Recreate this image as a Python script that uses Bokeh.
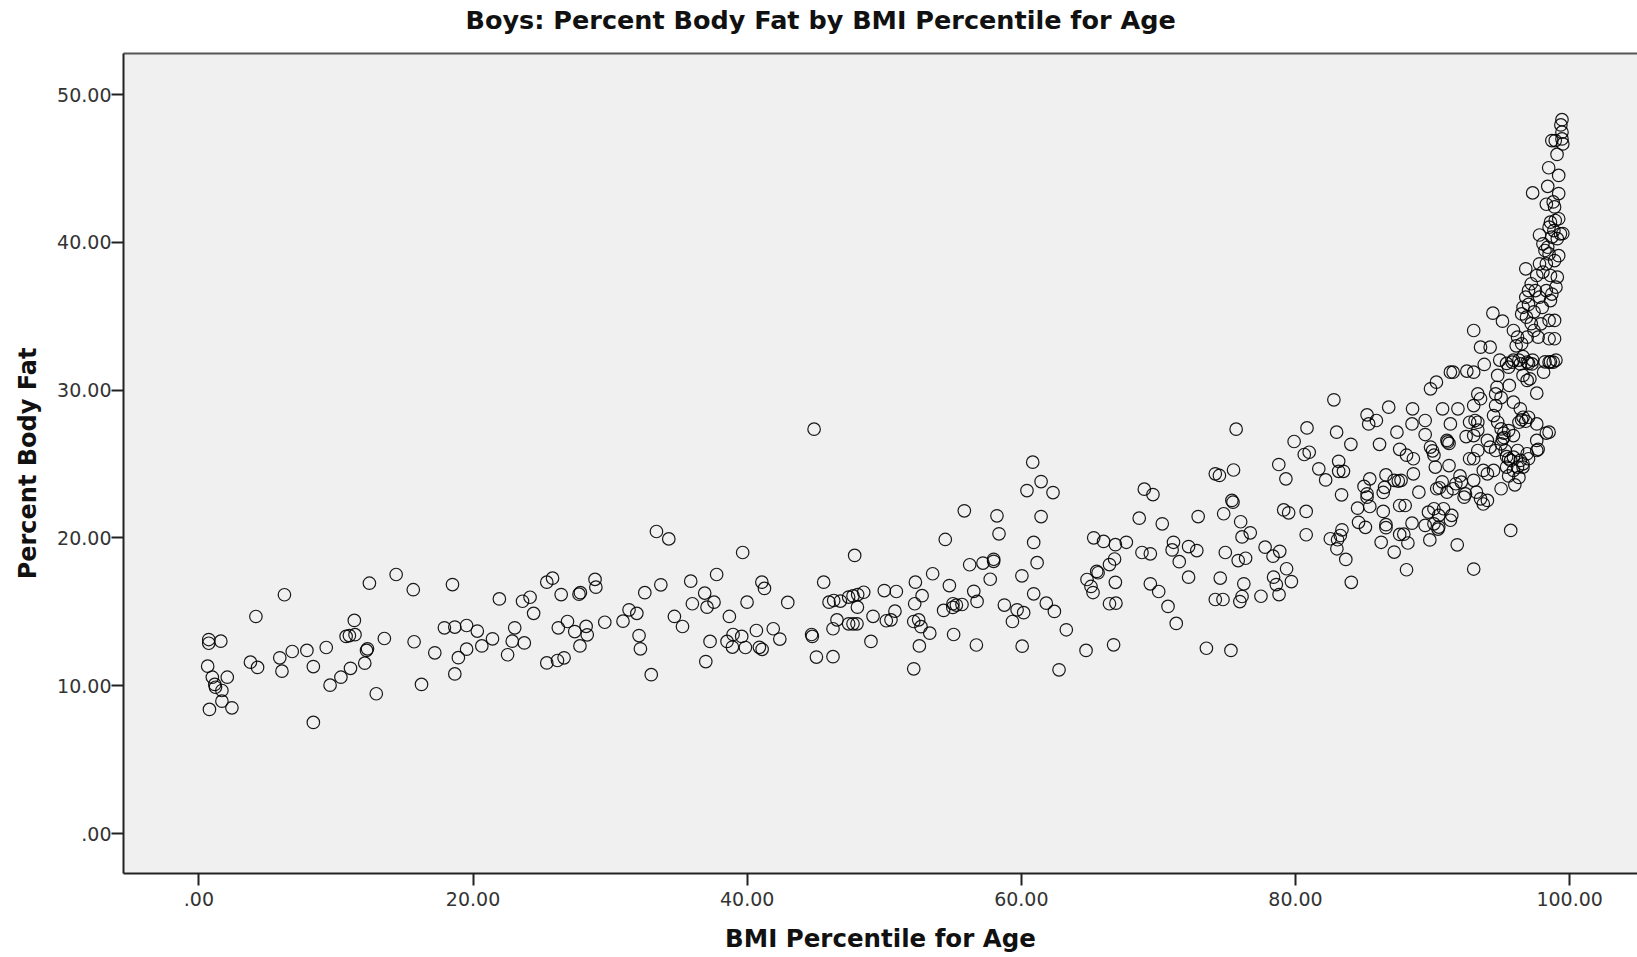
from bokeh.plotting import figure
from bokeh.models import Range1d, FixedTicker, LinearAxis, ColumnDataSource
from bokeh.embed import file_html
from bokeh.resources import INLINE

# ---- data (BMI percentile, percent body fat) ----
bmi_low = [0.72, 0.72, 1.60, 0.64, 0.98, 1.16, 1.21, 1.68, 2.07, 1.68,
           0.77, 2.41, 3.76, 4.28, 4.16, 6.24, 5.90, 6.06, 6.81, 7.88,
           8.35, 9.29, 8.35, 9.57, 10.36, 11.06, 12.1, 12.23, 12.3, 10.74,
           10.98, 11.39, 11.34, 12.44, 12.94, 13.53, 14.39, 15.64, 15.7, 16.24,
           17.21, 18.5, 17.91, 18.67, 19.53, 18.93, 19.53, 18.67, 20.31, 20.64,
           21.42, 21.92, 22.52, 22.86, 23.04, 23.74, 23.61, 24.16, 24.42, 25.38,
           25.8, 26.43, 25.38, 26.16, 26.64, 26.22, 26.89, 27.42, 27.73, 27.83,
           28.25, 28.33, 27.8, 28.9, 28.96, 29.61, 30.94, 31.38, 31.95, 32.11,
           32.21, 32.53, 33.0]
fat_low = [13.13, 12.88, 13.02, 11.33, 10.58, 10.09, 9.9, 9.68, 10.58, 8.96,
           8.4, 8.51, 11.6, 11.24, 14.69, 16.16, 11.89, 10.99, 12.32, 12.39,
           11.3, 12.59, 7.52, 10.04, 10.58, 11.18, 11.53, 12.39, 12.5, 13.34,
           13.4, 13.46, 14.42, 16.94, 9.46, 13.2, 17.53, 16.5, 12.98, 10.09,
           12.23, 16.85, 13.92, 13.97, 14.08, 11.9, 12.48, 10.8, 13.7, 12.7,
           13.18, 15.88, 12.1, 13.02, 13.92, 12.9, 15.72, 15.99, 14.9, 17.01,
           17.28, 16.17, 11.55, 11.71, 11.89, 13.92, 14.35, 13.67, 16.2, 16.3,
           14.02, 13.45, 12.7, 17.2, 16.67, 14.3, 14.37, 15.14, 14.9, 13.4,
           12.5, 16.3, 10.75]

bmi_mid = [33.38, 34.28, 33.7, 34.69, 35.28, 35.88, 36.0, 36.9, 37.07, 37.58,
           37.77, 36.98, 37.29, 38.70, 38.53, 38.97, 38.92, 39.6, 39.87, 39.99,
           39.67, 40.67, 40.89, 41.09, 41.07, 41.26, 41.9, 42.38, 42.96, 44.88,
           44.7, 44.75, 45.05, 45.58, 45.97, 46.31, 46.8, 47.4, 47.72, 48.06,
           48.04, 48.5, 47.84, 46.55, 46.26, 47.4, 47.72, 48.01, 46.26, 49.03,
           49.18, 50.0, 50.88, 50.15, 50.49, 50.78, 52.27, 52.22, 52.76, 52.15,
           52.51, 52.68, 53.32, 52.56, 52.15, 53.53, 54.45, 54.75, 54.33, 55.01,
           55.26, 55.67, 55.0, 55.06, 55.84, 56.23, 57.2, 57.98, 57.98, 56.53,
           56.77, 56.72, 58.22, 58.37, 57.73, 58.76, 59.35, 59.69, 60.17, 60.06,
           60.04, 60.83, 61.44, 60.41, 62.31, 61.44, 60.9, 61.15, 60.9, 61.82,
           62.41, 62.75, 63.28, 64.79, 65.28, 66.0, 66.86, 65.08, 65.23, 65.5,
           65.6, 66.43, 66.8, 66.86, 66.43, 66.9, 64.72, 66.73]
fat_mid = [20.44, 19.94, 16.83, 14.69, 14.01, 17.08, 15.55, 16.27, 15.32, 15.66,
           17.53, 11.64, 13.0, 14.69, 13.0, 13.47, 12.62, 13.34, 12.59, 15.66,
           19.02, 13.74, 12.6, 12.47, 17.01, 16.59, 13.86, 13.16, 15.64, 27.36,
           13.47, 13.34, 11.94, 17.01, 15.66, 15.77, 15.73, 16.0, 16.08, 16.17,
           15.32, 16.33, 18.82, 14.46, 13.86, 14.19, 14.19, 14.19, 11.97, 13.0,
           14.7, 16.44, 16.38, 14.4, 14.46, 15.05, 17.01, 15.55, 16.1, 14.35,
           14.46, 14.0, 13.56, 12.70, 11.15, 17.58, 19.9, 16.78, 15.1, 15.55,
           15.46, 15.5, 15.3, 13.47, 21.84, 18.19, 18.3, 18.56, 18.42, 16.39,
           15.71, 12.76, 21.5, 20.28, 17.21, 15.46, 14.35, 15.14, 14.95, 12.68,
           17.44, 25.13, 23.82, 23.21, 23.07, 21.45, 19.7, 18.33, 16.22, 15.59,
           15.03, 11.08, 13.79, 17.19, 20.01, 19.77, 19.55, 16.72, 16.31, 17.74,
           17.65, 18.2, 18.58, 17.0, 15.55, 15.59, 12.39, 12.77]

bmi_high = [67.66, 68.97, 69.6, 68.6, 70.28, 68.8, 69.41, 69.41, 70.02, 70.7,
            71.3, 71.1, 71.0, 71.52, 72.2, 72.8, 72.2, 72.9, 73.5, 74.15,
            74.45, 75.48, 75.67, 75.36, 75.44, 74.76, 74.88, 74.51, 74.15, 74.71,
            76.0, 76.7, 76.1, 75.82, 76.36, 76.23, 76.1, 75.94, 75.29, 77.48,
            77.78, 78.36, 78.85, 78.4, 78.6, 78.8, 79.35, 79.7, 78.78, 79.3,
            79.9, 80.84, 80.64, 81.0, 79.14, 79.5, 80.78, 80.78, 82.8, 81.7,
            82.2, 83.0, 84.04, 83.15, 83.15, 83.5, 83.36, 82.54, 83.07, 83.39,
            83.27, 83.02, 83.67, 84.07, 84.53, 85.42, 85.22, 84.6, 85.1, 85.22,
            85.34, 85.9, 86.8, 86.13, 87.4, 87.6, 85.42, 85.0, 85.22, 86.6,
            86.5, 86.4, 87.2, 87.5, 87.7, 86.4, 86.6, 86.6, 86.25, 87.2,
            87.6, 87.6]
fat_high = [19.71, 23.3, 22.94, 21.34, 20.96, 19.02, 18.93, 16.9, 16.38, 15.37,
            14.22, 19.71, 19.19, 18.4, 19.42, 19.15, 17.35, 21.45, 12.54, 24.34,
            24.23, 24.6, 27.36, 22.54, 22.42, 21.64, 19.02, 17.29, 15.84, 15.84,
            21.1, 20.35, 20.07, 18.47, 18.63, 16.9, 16.04, 15.7, 12.39, 16.06,
            19.38, 18.77, 19.1, 17.35, 16.85, 16.17, 17.92, 17.05, 24.97, 24.0,
            26.53, 27.45, 25.65, 25.8, 21.9, 21.7, 21.8, 20.22, 29.35, 24.68,
            23.93, 27.16, 26.34, 25.19, 24.51, 24.51, 22.92, 19.95, 19.88, 20.55,
            20.17, 19.27, 18.55, 17.0, 22.02, 22.13, 22.76, 21.06, 20.72, 28.33,
            27.72, 27.95, 28.85, 26.34, 27.16, 26.0, 24.0, 23.49, 22.99, 24.27,
            23.43, 23.08, 23.9, 23.85, 23.9, 21.8, 20.9, 20.7, 19.71, 19.05,
            22.2, 20.24]

bmi_upper = [93.77, 91.3, 91.5, 92.5, 93.0, 89.85, 90.28, 94.75, 95.55, 95.8,
             96.4, 96.9, 97.25, 98.5, 98.8, 98.1, 96.6, 96.9, 97.1, 97.6,
             95.6, 94.7, 94.6, 93.3, 93.5, 88.54, 90.73, 91.85, 88.5, 89.46,
             91.3, 89.46, 91.05, 91.2, 92.45, 93.0, 93.1, 93.3, 93.0, 94.6,
             95.0, 95.9, 94.45, 94.75, 95.0, 96.4, 96.6, 97.0, 97.6, 97.6,
             98.5, 96.3, 95.9, 95.55, 95.2, 95.0, 94.6, 94.0, 94.2, 93.7,
             94.0, 94.45, 93.3, 93.3, 92.7, 93.0, 92.7, 92.0, 92.1, 93.0,
             95.4, 95.55, 95.9, 96.2, 96.4, 96.6, 96.6, 96.9, 97.0, 97.6,
             95.3, 95.55, 95.0, 95.7, 93.5, 93.7, 94.0, 93.2, 92.3, 92.4,
             91.2, 91.1, 90.5, 90.7, 90.3, 91.05, 91.5, 91.7, 90.2, 89.85,
             90.1, 90.0, 88.6, 88.1, 88.6, 88.0, 89.0, 88.5, 89.46, 90.1,
             90.45, 89.7, 90.1, 90.45, 90.8, 91.3, 91.4, 87.9, 88.2, 89.8,
             90.4, 91.8, 88.1, 93.0, 95.2, 95.1, 95.4, 95.7, 95.9, 96.2,
             97.7, 96.5, 96.8, 98.3, 96.0, 96.3]
fat_upper = [31.74, 31.22, 31.22, 31.29, 31.22, 30.09, 30.54, 31.0, 31.56, 31.9,
             31.78, 31.9, 31.78, 31.9, 31.9, 31.22, 31.0, 30.66, 30.77, 29.8,
             30.32, 30.2, 29.75, 29.75, 29.42, 28.74, 28.74, 28.74, 27.72, 27.95,
             27.72, 27.0, 26.6, 26.4, 26.86, 26.93, 27.95, 27.83, 28.96, 28.96,
             29.5, 29.19, 28.28, 27.83, 27.38, 28.74, 28.17, 28.17, 27.72, 26.6,
             27.16, 27.83, 26.93, 27.27, 26.8, 26.37, 25.92, 26.6, 26.15, 24.57,
             24.34, 24.57, 25.92, 27.3, 25.36, 25.36, 27.83, 24.2, 23.78, 23.9,
             24.8, 24.2, 25.47, 25.92, 25.25, 25.02, 24.8, 25.7, 25.36, 25.92,
             25.92, 25.36, 23.33, 20.51, 22.65, 22.3, 22.54, 23.1, 22.76, 22.98,
             24.9, 26.5, 23.4, 23.8, 23.33, 23.1, 23.33, 23.67, 24.8, 26.15,
             25.6, 25.9, 25.36, 25.6, 24.34, 22.2, 23.1, 21.0, 20.85, 20.96,
             20.74, 21.75, 21.98, 21.53, 21.98, 21.2, 21.53, 20.26, 19.66, 19.87,
             20.6, 19.54, 17.85, 17.9, 27.1, 26.7, 25.5, 25.25, 24.57, 24.8,
             26.0, 28.0, 27.9, 27.1, 23.6, 24.1]

bmi_top = [99.44, 99.36, 99.44, 98.7, 98.95, 99.44, 99.5, 99.08, 98.47, 99.2,
           98.4, 97.3, 99.2, 98.3, 98.8, 98.9, 97.8, 98.6, 98.95, 99.2,
           98.5, 98.85, 99.33, 98.7, 99.1, 99.5, 98.05, 98.4, 98.2, 98.5,
           99.2, 98.9, 96.8, 97.8, 98.3, 97.6, 98.05, 98.6, 99.1, 99.0,
           97.2, 97.0, 96.8, 97.5, 97.8, 98.3, 98.6, 98.7, 96.6, 96.5,
           96.85, 94.4, 95.1, 93.0, 93.5, 94.2, 95.9, 96.2, 96.5, 96.9,
           97.4, 97.9, 97.7, 98.5, 98.9, 98.9, 98.5, 94.9, 95.4, 95.9,
           96.3, 96.6, 97.0, 97.3, 98.2, 98.6, 99.0, 97.0, 97.4, 98.0,
           97.2, 96.1]
fat_top = [48.3, 47.95, 47.46, 46.89, 46.89, 47.0, 46.66, 45.95, 45.05, 44.53,
           43.79, 43.35, 43.3, 42.58, 42.74, 42.4, 40.5, 41.37, 41.48, 41.6,
           41.03, 40.8, 40.58, 40.36, 40.25, 40.6, 39.9, 39.67, 39.45, 39.22,
           39.1, 38.77, 38.21, 38.55, 38.55, 37.76, 37.99, 37.76, 37.65, 36.97,
           37.2, 36.74, 36.29, 36.74, 36.29, 36.74, 36.06, 36.5, 35.61, 35.16,
           34.94, 35.21, 34.67, 34.04, 32.91, 32.91, 34.04, 33.59, 33.14, 33.59,
           34.04, 34.49, 33.59, 34.72, 34.72, 33.48, 33.48, 32.04, 31.81, 32.04,
           32.04, 32.27, 31.81, 32.04, 31.92, 31.92, 32.04, 35.8, 35.3, 35.6,
           34.5, 33.0]

x_ticks = [0, 20, 40, 60, 80, 100]
x_tick_labels = [".00", "20.00", "40.00", "60.00", "80.00", "100.00"]
y_ticks = [0, 10, 20, 30, 40, 50]
y_tick_labels = [".00", "10.00", "20.00", "30.00", "40.00", "50.00"]

title_text = "Boys: Percent Body Fat by BMI Percentile for Age"
x_label = "BMI Percentile for Age"
y_label = "Percent Body Fat"

# ---- build ----
bmi = bmi_low + bmi_mid + bmi_high + bmi_upper + bmi_top
fat = fat_low + fat_mid + fat_high + fat_upper + fat_top
src = ColumnDataSource(data=dict(bmi=bmi, fat=fat))

FONT = "DejaVu Sans"

p = figure(width=1637, height=957, output_backend="svg", toolbar_location=None,
           x_range=Range1d(-5.5, 104.95), y_range=Range1d(-2.70, 52.78),
           min_border_left=123, min_border_right=0, min_border_top=53,
           min_border_bottom=84)

p.background_fill_color = "#f0f0f0"
p.border_fill_color = "white"
p.outline_line_color = None
p.grid.visible = False

p.title.text = title_text
p.title.align = "left"
p.title.offset = 342
p.title.text_font = FONT
p.title.text_font_size = "25.5px"
p.title.text_font_style = "bold"
p.title.text_color = "#111111"
p.title.standoff = 0

for ax, ticks, labels, lab in ((p.xaxis, x_ticks, x_tick_labels, x_label),
                               (p.yaxis, y_ticks, y_tick_labels, y_label)):
    ax.ticker = FixedTicker(ticks=ticks)
    ax.major_label_overrides = {t: l for t, l in zip(ticks, labels)}
    ax.major_tick_out = 12
    ax.major_tick_in = 0
    ax.minor_tick_line_color = None
    ax.major_tick_line_color = "#222222"
    ax.major_tick_line_width = 2
    ax.axis_line_color = "#222222"
    ax.axis_line_width = 2
    ax.major_label_text_font = FONT
    ax.major_label_text_font_size = "19px"
    ax.major_label_text_color = "#333333"
    ax.axis_label = lab
    ax.axis_label_text_font = FONT
    ax.axis_label_text_font_style = "bold"
    ax.axis_label_text_color = "#111111"

p.xaxis.axis_label_text_font_size = "24.5px"
p.yaxis.axis_label_text_font_size = "24px"
p.xaxis.major_label_standoff = 6
p.yaxis.major_label_standoff = 0
p.xaxis.axis_label_standoff = 15
p.yaxis.axis_label_standoff = 12

# top frame border; one near-transparent tick gives the space above the frame
top = LinearAxis(ticker=FixedTicker(ticks=[103]), axis_line_color="#555555",
                 axis_line_width=2, major_tick_line_color="white",
                 major_tick_line_alpha=0.01, major_tick_line_width=0.5,
                 major_tick_out=19, major_tick_in=0, major_label_standoff=0,
                 major_label_overrides={103: ""},
                 minor_tick_line_color=None, major_label_text_font_size="0px")
p.add_layout(top, "above")

p.scatter("bmi", "fat", source=src, marker="circle", size=12.5,
          fill_color=None, line_color="black", line_width=1.2, line_alpha=0.9)

open("out.html", "w").write(file_html(p, INLINE))
